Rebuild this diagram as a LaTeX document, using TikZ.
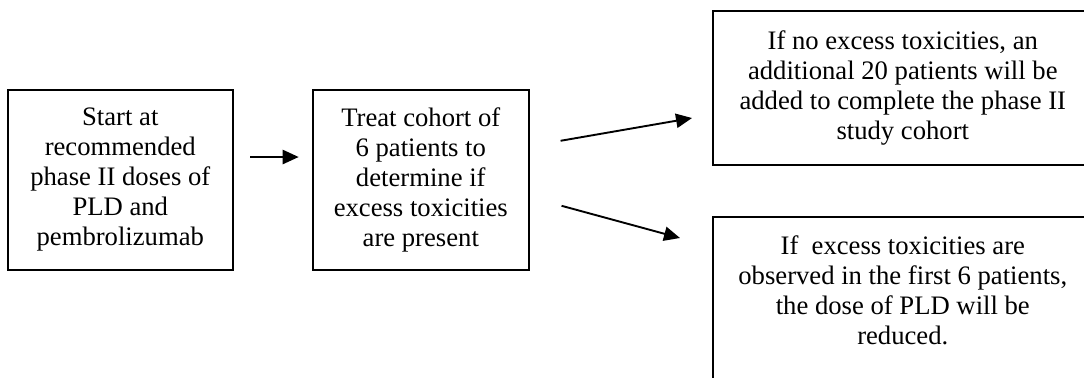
\documentclass[tikz,border=0pt]{standalone}
\usepackage{fontspec}
\setmainfont{Liberation Serif}
\usetikzlibrary{arrows.meta,calc}
\begin{document}
\begin{tikzpicture}[x=0.45pt,y=-0.45pt,
  box/.style={draw, line width=0.7pt, inner sep=0pt, anchor=north west, align=center,
              font=\fontsize{12}{13.5}\selectfont},
  txt/.style={align=center, inner sep=0pt, font=\fontsize{12}{13.5}\selectfont},
  arr/.style={line width=0.85pt, -{Triangle[length=7.2pt,width=6.4pt]}}]
\useasboundingbox (0,0) rectangle (1084,377);
\clip (0,0) rectangle (1084,377);
\node[box, minimum width=225*0.45pt, minimum height=180*0.45pt] (b1) at (7,89)
  {Start at\\recommended\\phase II doses of\\PLD and\\pembrolizumab};
\node[box, minimum width=216*0.45pt, minimum height=180*0.45pt] (b2) at (312,89)
  {Treat cohort of\\6 patients to\\determine if\\excess toxicities\\are present};
\node[box, minimum width=380*0.45pt, minimum height=154*0.45pt] (b3) at (712,10)
  {If no excess toxicities, an\\additional 20 patients will be\\added to complete the phase II\\study cohort};
\node[box, minimum width=380*0.45pt, minimum height=200*0.45pt] (b4) at (712,216) {};
\node[txt] (t4) at ($(b4.north)+(0,74)$)
  {If\ \ excess toxicities are\\observed in the first 6 patients,\\the dose of PLD will be\\reduced.};
\coordinate (c3) at (692,118);
\coordinate (c4) at (680,238);
\draw[arr, shorten <=7.6pt, shorten >=6pt] (b1.east |- 0,157) -- (b2.west |- 0,157);
\draw[arr] ($(b2.east)+(31,-39)$) -- (c3);
\draw[arr] ($(b2.east)+(32,26)$) -- (c4);
\end{tikzpicture}
\end{document}
